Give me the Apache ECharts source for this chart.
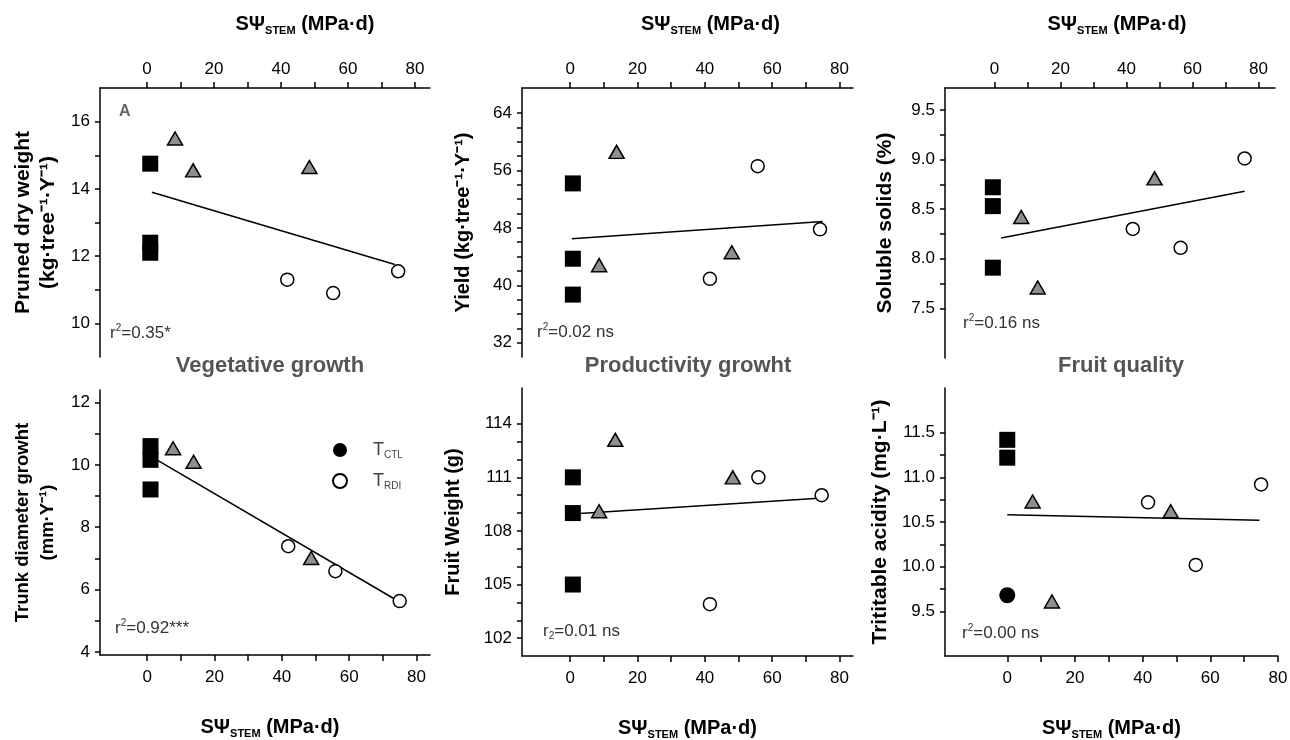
<!DOCTYPE html>
<html>
<head>
<meta charset="utf-8">
<script src="https://cdn.jsdelivr.net/npm/echarts@6/dist/echarts.min.js"></script>
<style>
  html, body { margin: 0; padding: 0; background: #fff; }
  #chart { width: 1290px; height: 740px; }
</style>
</head>
<body>
<div id="chart"></div>
<script>
// x values: SΨstem (MPa·d); each point is [x, y]
// A - pruned dry weight
var ctlPruned = [[1, 14.75], [1, 12.4], [1, 12.1]];
var triPruned = [[8.4, 15.5], [13.8, 14.55], [48.5, 14.65]];
var rdiPruned = [[41.9, 11.3], [55.6, 10.9], [75, 11.55]];
var fitPruned = [[1.5, 13.9], [74, 11.75]];

// yield
var ctlYield = [[0.8, 54.2], [0.8, 43.7], [0.8, 38.7]];
var triYield = [[13.8, 58.6], [8.6, 42.8], [48, 44.6]];
var rdiYield = [[55.7, 56.6], [41.5, 40.9], [74.2, 47.8]];
var fitYield = [[0.5, 46.5], [75, 48.9]];

// soluble solids
var ctlSolids = [[-0.5, 8.72], [-0.5, 8.53], [-0.5, 7.91]];
var triSolids = [[8.1, 8.42], [13.1, 7.71], [48.5, 8.81]];
var rdiSolids = [[41.9, 8.3], [56.4, 8.11], [75.8, 9.01]];
var fitSolids = [[2, 8.21], [75.8, 8.68]];

// trunk diameter growth
var ctlTrunk = [[1, 10.6], [1, 10.16], [1, 9.21]];
var triTrunk = [[7.7, 10.53], [13.8, 10.1], [48.7, 7.01]];
var rdiTrunk = [[41.9, 7.39], [55.9, 6.59], [75, 5.63]];
var fitTrunk = [[3, 10.15], [75, 5.6]];

// fruit weight
var ctlWeight = [[0.8, 111], [0.8, 109], [0.8, 105]];
var triWeight = [[13.4, 113.1], [8.6, 109.1], [48.3, 111]];
var rdiWeight = [[55.9, 111], [41.5, 103.9], [74.7, 110]];
var fitWeight = [[0.5, 108.95], [75, 109.85]];

// titratable acidity
var ctlAcid = [[0, 11.42], [0, 11.22], [0, 9.68]];
var ctlAcidSymbols = ['rect', 'rect', 'circle'];
var triAcid = [[7.5, 10.73], [13.2, 9.61], [48.3, 10.62]];
var rdiAcid = [[41.6, 10.72], [55.7, 10.02], [75, 10.92]];
var fitAcid = [[0, 10.58], [74.5, 10.52]];

// tick labels
var xLabels = [0, 20, 40, 60, 80];
var xTicks = [0, 10, 20, 30, 40, 50, 60, 70, 80];
var yLabPruned = [10, 12, 14, 16];
var yLabYield = [32, 40, 48, 56, 64];
var yLabSolids = [7.5, 8.0, 8.5, 9.0, 9.5];
var yLabTrunk = [4, 6, 8, 10, 12];
var yLabWeight = [102, 105, 108, 111, 114];
var yLabAcid = [9.5, 10.0, 10.5, 11.0, 11.5];

var rSq = ['r²=0.35*', 'r²=0.02 ns', 'r²=0.16 ns', 'r²=0.92***', 'r₂=0.01 ns', 'r²=0.00 ns'];
var groups = ['Vegetative growth', 'Productivity growht', 'Fruit quality'];

var FONT = 'Liberation Sans, Arial, sans-serif';
var NARROW = 'Liberation Sans Narrow, Arial Narrow, Liberation Sans, sans-serif';

function steps(a, b, s) {
  var out = [];
  for (var v = a; v <= b + 1e-9; v += s) out.push(Math.round(v * 100) / 100);
  return out;
}

var grids = [
  {left: 100, top: 88, width: 330, height: 269},
  {left: 522, top: 88, width: 331, height: 269},
  {left: 945, top: 88, width: 330, height: 270},
  {left: 100, top: 390, width: 330, height: 265},
  {left: 522, top: 388, width: 331, height: 268},
  {left: 945, top: 388, width: 333, height: 268}
];
grids.forEach(function (g) { g.outerBoundsMode = 'none'; });

var xName = '{a|SΨ}{s|STEM}{a| (MPa·d)}';
function xNameStyle(shift) {
  return {
    color: '#000',
    fontFamily: FONT,
    padding: [0, 0, 0, shift],
    rich: {
      a: {fontSize: 20, fontWeight: 'bold', lineHeight: 24, fontFamily: FONT, color: '#000'},
      s: {fontSize: 11, fontWeight: 'bold', lineHeight: 11, verticalAlign: 'bottom', fontFamily: FONT, color: '#000'}
    }
  };
}

function xAxis(gi, min, max, top, shift) {
  return {
    type: 'value', gridIndex: gi, position: top ? 'top' : 'bottom',
    min: min, max: max,
    name: xName, nameLocation: 'middle', nameGap: top ? 52 : 60,
    nameTextStyle: xNameStyle(shift),
    axisLine: {show: true, onZero: false, lineStyle: {color: '#000', width: 1.5}},
    axisTick: {show: true, customValues: xTicks, length: 6, lineStyle: {color: '#000', width: 1.5}},
    axisLabel: {customValues: xLabels, margin: top ? 10 : 14, fontSize: 17, color: '#000', fontFamily: FONT},
    splitLine: {show: false}
  };
}

function yAxis(gi, min, max, labels, tickStep, name, gap, size, dec, family) {
  return {
    type: 'value', gridIndex: gi, position: 'left',
    min: min, max: max,
    name: name, nameLocation: 'middle', nameGap: gap, nameRotate: 90,
    nameTextStyle: {fontSize: size, fontWeight: 'bold', color: '#000', fontFamily: family || FONT, lineHeight: 25},
    axisLine: {show: true, onZero: false, lineStyle: {color: '#000', width: 1.5}},
    axisTick: {show: true, customValues: steps(labels[0], labels[labels.length - 1], tickStep), length: 5, lineStyle: {color: '#000', width: 1.5}},
    axisLabel: {
      customValues: labels, margin: 10, fontSize: 17, color: '#000', fontFamily: FONT,
      formatter: function (v) { return dec ? v.toFixed(1) : String(v); }
    },
    splitLine: {show: false}
  };
}

var xAxes = [
  xAxis(0, -14, 84.5, true, 80),
  xAxis(1, -14.3, 84, true, 46),
  xAxis(2, -15, 85, true, 14),
  xAxis(3, -14, 84, false, 10),
  xAxis(4, -14.3, 84, false, 0),
  xAxis(5, -18.4, 80, false, 0)
];

var yAxes = [
  yAxis(0, 9, 17, yLabPruned, 1, 'Pruned dry weight\n(kg·tree⁻¹·Y⁻¹)', 39, 21, false),
  yAxis(1, 30, 67.5, yLabYield, 2, 'Yield (kg·tree⁻¹·Y⁻¹)', 46, 20, false),
  yAxis(2, 7.0, 9.72, yLabSolids, 0.25, 'Soluble solids (%)', 47, 21, true),
  yAxis(3, 3.9, 12.4, yLabTrunk, 1, 'Trunk diameter growht\n(mm·Y⁻¹)', 40, 18.5, false),
  yAxis(4, 101, 116, yLabWeight, 1, 'Fruit Weight (g)', 56, 20, false, NARROW),
  yAxis(5, 9.0, 12.0, yLabAcid, 0.25, 'Trititable acidity (mg·L⁻¹)', 52, 21, true)
];

var panelData = [
  [ctlPruned, triPruned, rdiPruned, fitPruned],
  [ctlYield, triYield, rdiYield, fitYield],
  [ctlSolids, triSolids, rdiSolids, fitSolids],
  [ctlTrunk, triTrunk, rdiTrunk, fitTrunk],
  [ctlWeight, triWeight, rdiWeight, fitWeight],
  [ctlAcid, triAcid, rdiAcid, fitAcid]
];

var series = [];
panelData.forEach(function (p, i) {
  var ctl = p[0];
  if (i === 5) {
    ctl = ctlAcid.map(function (d, k) { return {value: d, symbol: ctlAcidSymbols[k]}; });
  }
  series.push({
    name: 'fit', type: 'line', xAxisIndex: i, yAxisIndex: i, data: p[3],
    showSymbol: false, symbol: 'none', silent: true, z: 2,
    lineStyle: {color: '#000', width: 1.5}
  });
  series.push({
    name: 'T_CTL', type: 'scatter', xAxisIndex: i, yAxisIndex: i, data: ctl,
    symbol: 'rect', symbolSize: 16, z: 3,
    itemStyle: {color: '#000', opacity: 1}
  });
  series.push({
    name: 'Triangle', type: 'scatter', xAxisIndex: i, yAxisIndex: i, data: p[1],
    symbol: 'triangle', symbolSize: [15, 13], z: 4,
    itemStyle: {color: '#8f8f8f', borderColor: '#000', borderWidth: 1.5, opacity: 1}
  });
  series.push({
    name: 'T_RDI', type: 'scatter', xAxisIndex: i, yAxisIndex: i, data: p[2],
    symbol: 'circle', symbolSize: 13, z: 4,
    itemStyle: {color: '#fff', borderColor: '#000', borderWidth: 1.5, opacity: 1}
  });
});

var rPos = [[110, 323], [537, 322], [963, 313], [115, 618], [543, 621], [962, 623]];
var graphics = rSq.map(function (t, i) {
  var base = t.charAt(1) === '₂' ? '{a|r}{sb|2}' : '{a|r}{sp|2}';
  return {
    type: 'text', x: rPos[i][0], y: rPos[i][1],
    style: {
      text: base + '{a|' + t.slice(2) + '}',
      fill: '#333',
      rich: {
        a: {fontSize: 17, lineHeight: 20, fontFamily: FONT, fill: '#333', color: '#333'},
        sp: {fontSize: 10, lineHeight: 10, verticalAlign: 'top', fontFamily: FONT, fill: '#333', color: '#333'},
        sb: {fontSize: 10, lineHeight: 10, verticalAlign: 'bottom', fontFamily: FONT, fill: '#333', color: '#333'}
      }
    }
  };
});
var gPos = [[270, 366], [688, 366], [1121, 366]];
groups.forEach(function (t, i) {
  graphics.push({
    type: 'text', x: gPos[i][0], y: gPos[i][1],
    style: {
      text: t, fill: '#555', font: 'bold 22px ' + FONT,
      align: 'center', verticalAlign: 'middle', textAlign: 'center', textVerticalAlign: 'middle'
    }
  });
});
graphics.push({
  type: 'text', x: 119, y: 104,
  style: {text: 'A', fill: '#666', font: 'bold 16px ' + FONT}
});

var chart = echarts.init(document.getElementById('chart'), null, {renderer: 'canvas'});
chart.setOption({
  backgroundColor: '#fff',
  animation: false,
  grid: grids,
  xAxis: xAxes,
  yAxis: yAxes,
  legend: {
    orient: 'vertical', left: 327, top: 436, itemGap: 12,
    itemWidth: 14, itemHeight: 14,
    data: [{name: 'T_CTL', icon: 'circle'}, {name: 'T_RDI', icon: 'circle'}],
    formatter: function (n) {
      return n === 'T_CTL' ? '{t|T}{s|CTL}' : '{t|T}{s|RDI}';
    },
    textStyle: {
      color: '#444',
      rich: {
        t: {fontSize: 18, lineHeight: 20, padding: [0, 0, 0, 21], fontFamily: FONT, color: '#444'},
        s: {fontSize: 10, lineHeight: 10, verticalAlign: 'bottom', fontFamily: FONT, color: '#444'}
      }
    }
  },
  graphic: graphics,
  series: series
});
</script>
</body>
</html>
